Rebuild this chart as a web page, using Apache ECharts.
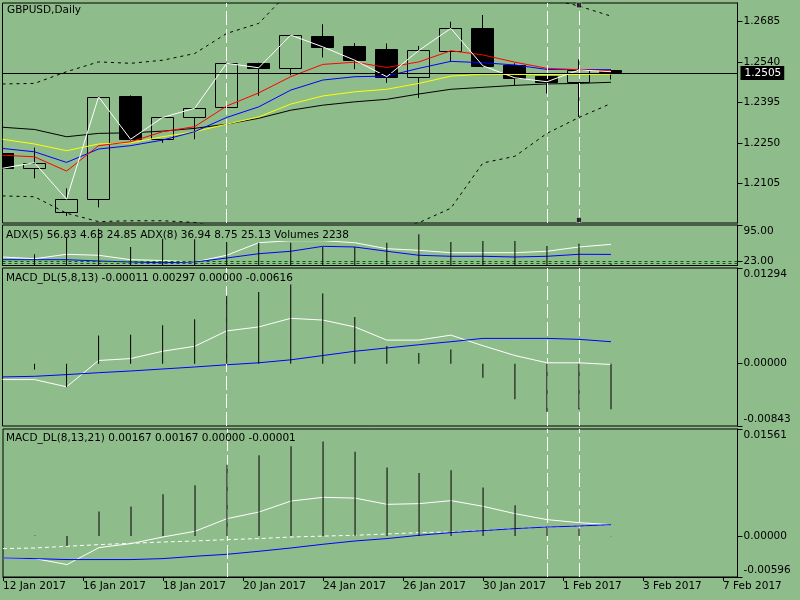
<!DOCTYPE html>
<html><head><meta charset="utf-8">
<script src="https://cdn.jsdelivr.net/npm/echarts@6/dist/echarts.min.js"></script>
<style>html,body{margin:0;padding:0;background:#8fbc8b}#c{width:800px;height:600px}</style>
</head><body><div id="c"></div>
<script>
// ---------- data ----------
const dateLabels = ['12 Jan 2017','16 Jan 2017','18 Jan 2017','20 Jan 2017','24 Jan 2017','26 Jan 2017','30 Jan 2017','1 Feb 2017','3 Feb 2017','7 Feb 2017'];
const dateLabelPos = [0,2.5,5,7.5,10,12.5,15,17.5,20,22.5];
const barIdx = [0,1,2,3,4,5,6,7,8,9,10,11,12,13,14,15,16,17,18,19];

const open  = [1.2212,1.2159,1.2001,1.2048,1.2418,1.2263,1.2343,1.2379,1.2535,1.2519,1.2632,1.2597,1.2588,1.2485,1.2580,1.2661,1.2529,1.2489,1.2469,1.2512];
const close = [1.2159,1.2179,1.2048,1.2415,1.2263,1.2341,1.2374,1.2535,1.2519,1.2636,1.2594,1.2546,1.2487,1.2581,1.2660,1.2526,1.2483,1.2469,1.2511,1.2505];
const high  = [1.2221,1.2233,1.2087,1.2417,1.2420,1.2343,1.2376,1.2537,1.2537,1.2638,1.2675,1.2608,1.2606,1.2597,1.2684,1.2708,1.2535,1.2490,1.2549,1.2514];
const low   = [1.2153,1.2123,1.1988,1.2019,1.2258,1.2250,1.2263,1.2377,1.2419,1.2492,1.2556,1.2514,1.2465,1.2411,1.2540,1.2521,1.2457,1.2427,1.2343,1.2477];

const maRed    = [1.2206,1.2200,1.2149,1.2240,1.2254,1.2290,1.2308,1.2382,1.2429,1.2487,1.2531,1.2539,1.2520,1.2540,1.2580,1.2565,1.2539,1.2517,1.2512,1.2509];
const maBlue   = [1.2230,1.2218,1.2180,1.2228,1.2240,1.2260,1.2290,1.2341,1.2379,1.2439,1.2475,1.2487,1.2489,1.2517,1.2542,1.2537,1.2529,1.2513,1.2513,1.2512];
const maYellow = [1.2263,1.2246,1.2222,1.2246,1.2250,1.2272,1.2290,1.2317,1.2343,1.2389,1.2418,1.2433,1.2442,1.2463,1.2489,1.2496,1.2495,1.2495,1.2495,1.2496];
const maBlack  = [1.2306,1.2298,1.2272,1.2284,1.2286,1.2292,1.2302,1.2317,1.2338,1.2367,1.2385,1.2397,1.2406,1.2425,1.2442,1.2449,1.2456,1.2461,1.2463,1.2467];
const bandUpper = [1.2461,1.2463,1.2505,1.2540,1.2535,1.2546,1.2570,1.2642,1.2678,1.2797,1.2815,1.2830,1.2845,1.2855,1.2860,1.2850,1.2810,1.2768,1.2740,1.2704];
const bandLower = [1.2060,1.2057,1.1998,1.1968,1.1971,1.1971,1.1965,1.1945,1.1931,1.1909,1.1902,1.1916,1.1938,1.1964,1.2016,1.2178,1.2202,1.2284,1.2341,1.2391];
const bidPrice = 1.2505;
const priceTicks = [1.2105,1.2250,1.2395,1.2540,1.2685];
const anchorPoints = [[18,1.2743],[18,1.1974]];
const vLineAt = [7,17,18];

const adxWhite = [31.8,28.4,37.1,35.2,26.5,24.9,21.9,35.2,60.0,64.0,64.0,60.0,48.2,45.0,40.3,40.3,40.3,43.1,51.6,56.8];
const adxBlue  = [26.5,26.5,26.5,23.9,21.9,20.5,21.9,29.8,38.3,43.1,52.9,51.6,43.1,35.2,33.2,33.2,31.8,33.2,37.1,36.9];
const adxLevels = [23,18.5];
const adxTicks = [95,23,18.5];
const volumes = [33000,17100,42500,56300,28300,41000,40100,36000,34900,34900,28300,28300,34900,47700,36000,37500,37500,29800,33400,2238];

const macd1Hist   = [-0.0006,-0.0008,-0.0032,0.0038,0.0039,0.0052,0.0060,0.0092,0.0097,0.0107,0.0095,0.0063,0.0024,0.00146,0.0019,-0.0019,-0.0048,-0.0065,-0.0062,-0.00616];
const macd1Main   = [-0.00215,-0.00215,-0.00313,0.00043,0.00069,0.00168,0.00235,0.00443,0.00497,0.00613,0.00590,0.00497,0.00319,0.00319,0.00386,0.00243,0.00110,0.00012,0.00012,-0.00011];
const macd1Signal = [-0.00179,-0.00171,-0.00148,-0.00122,-0.00099,-0.00072,-0.00045,-0.00015,0.00012,0.00052,0.00110,0.00168,0.00212,0.00256,0.00297,0.00342,0.00342,0.00342,0.00329,0.00297];
const macd1Ticks = [0.01294,0,-0.00843];

const macd2Hist   = [0.0000,0.0001,-0.00144,0.0036,0.0043,0.0061,0.0074,0.0104,0.0118,0.0131,0.0138,0.0123,0.0100,0.0092,0.0096,0.0071,0.0045,0.0013,0.0011,-0.00001];
const macd2Main   = [-0.00318,-0.00328,-0.00415,-0.00167,-0.00109,-0.00013,0.00070,0.00255,0.00351,0.00511,0.00565,0.00554,0.00463,0.00473,0.00517,0.00434,0.00327,0.00240,0.00196,0.00167];
const macd2Signal = [-0.00318,-0.00328,-0.00342,-0.00342,-0.00342,-0.00328,-0.00294,-0.00265,-0.00221,-0.00173,-0.00119,-0.00071,-0.00036,0.00012,0.00051,0.00080,0.00109,0.00132,0.00147,0.00167];
const macd2Dash   = [-0.00182,-0.00173,-0.00148,-0.00124,-0.00105,-0.00086,-0.00071,-0.00051,-0.00036,-0.00013,0.00000,0.00012,0.00031,0.00051,0.00060,0.00084,0.00109,0.00132,0.00147,0.00167];
const macd2Ticks = [0.01561,0,-0.00596];

const titles = [
  'GBPUSD,Daily',
  'ADX(5) 56.83 4.63 24.85 ADX(8) 36.94 8.75 25.13 Volumes 2238',
  'MACD_DL(5,8,13) -0.00011 0.00297 0.00000 -0.00616',
  'MACD_DL(8,13,21) 0.00167 0.00167 0.00000 -0.00001'
];

// ---------- chart ----------
const FONT = 'DejaVu Sans';
const BG = '#8fbc8b';
const FS = 10.5;
const X_MAX = 22.95;
const pairs = arr => barIdx.map((x,i)=>[x, arr[i]]);

const chart = echarts.init(document.getElementById('c'), null, {renderer:'canvas'});

function gridCfg(top, height){
  return {left:2.5, top:top, width:735, height:height, show:true, borderColor:'#000', borderWidth:1, backgroundColor:'transparent', containLabel:false};
}
function xAx(i){
  const shown = i===3;
  return {
    type:'value', gridIndex:i, min:0, max:X_MAX, show:shown,
    splitLine:{show:false},
    axisLine:{show:shown, onZero:false, lineStyle:{color:'#000'}},
    axisTick:{show:shown, length:4, customValues:dateLabelPos, lineStyle:{color:'#000'}},
    axisLabel:{show:shown, customValues:dateLabelPos, margin:4, align:'left', color:'#000', fontSize:FS, fontFamily:FONT,
      formatter: v => dateLabels[Math.round(v/2.5)] || ''}
  };
}
function yAx(grid, min, max, ticks, dec, edgeShift){
  return {
    type:'value', gridIndex:grid, position:'right', min:min, max:max,
    splitLine:{show:false},
    axisLine:{show:true, onZero:false, lineStyle:{color:'#000'}},
    axisTick:{show:true, length:5, customValues:ticks, lineStyle:{color:'#000'}},
    axisLabel:{show:true, customValues:ticks, margin:6, align:'left', color:'#000', fontSize:FS, fontFamily:FONT,
      formatter: v => {
        const s = v.toFixed(dec);
        if (edgeShift && Math.abs(v-max) < 1e-9) return '{t|' + s + '}';
        if (edgeShift && Math.abs(v-min) < 1e-9) return '{b|' + s + '}';
        return s;
      },
      rich:{ t:{padding:[13,0,0,0]}, b:{padding:[0,0,14,0]} }
    }
  };
}
function line(xi, yi, arr, color, extra){
  return Object.assign({type:'line', xAxisIndex:xi, yAxisIndex:yi, data:pairs(arr), symbol:'none', silent:true,
    lineStyle:{width:1, color:color}, itemStyle:{color:color}}, extra||{});
}
function hist(xi, yi, arr, extra){
  return Object.assign({type:'bar', xAxisIndex:xi, yAxisIndex:yi, data:pairs(arr), barWidth:1, silent:true, z:6,
    itemStyle:{color:'#000'}}, extra||{});
}
const vLines = {silent:true, symbol:['none','none'], label:{show:false},
  lineStyle:{color:'#fff', type:[14,4], width:1}, data: vLineAt.map(v=>({xAxis:v}))};

function renderCandle(params, api){
  const x = api.value(0), o = api.value(1), c = api.value(2), l = api.value(3), h = api.value(4);
  const po = api.coord([x,o]), pc = api.coord([x,c]), pl = api.coord([x,l]), ph = api.coord([x,h]);
  const w = Math.round(api.size([1,0])[0]*0.68);
  const cx = Math.floor(po[0]) + 0.5;
  const top = Math.round(Math.min(po[1],pc[1])) + 0.5;
  const bot = Math.round(Math.max(po[1],pc[1])) + 0.5;
  const bull = c >= o;
  return {type:'group', children:[
    {type:'line', shape:{x1:cx, y1:ph[1], x2:cx, y2:pl[1]}, style:{stroke:'#000', lineWidth:1}},
    {type:'rect', shape:{x:cx - w/2, y:top, width:w, height:Math.max(bot-top,1)},
     style:{fill: bull ? BG : '#000', stroke:'#000', lineWidth:1}}
  ]};
}

const titleStyle = {fontSize:FS, fontWeight:'normal', color:'#000', fontFamily:FONT};
const option = {
  backgroundColor: BG,
  animation: false,
  title: [
    {text:titles[0], left:7, top:5, padding:0, textStyle:titleStyle},
    {text:titles[1], left:6, top:230, padding:0, textStyle:titleStyle, backgroundColor:BG},
    {text:titles[2], left:6, top:273, padding:0, textStyle:titleStyle},
    {text:titles[3], left:6, top:433, padding:0, textStyle:titleStyle}
  ],
  grid: [gridCfg(3,220), gridCfg(225,40.5), gridCfg(268,158), gridCfg(429,148)],
  xAxis: [xAx(0), xAx(1), xAx(2), xAx(3)],
  yAxis: [
    yAx(0, 1.1963, 1.2751, priceTicks, 4, false),
    yAx(1, 15, 95, adxTicks, 2, true),
    {type:'value', gridIndex:1, min:0, max:62000, show:false, splitLine:{show:false}},
    yAx(2, -0.00843, 0.01294, macd1Ticks, 5, true),
    yAx(3, -0.00596, 0.01561, macd2Ticks, 5, true)
  ],
  series: [
    {type:'custom', xAxisIndex:0, yAxisIndex:0, clip:true, silent:true,
     data: barIdx.map((x,i)=>[x, open[i], close[i], low[i], high[i]]),
     encode:{x:0, y:[1,2,3,4]}, renderItem: renderCandle},
    line(0,0,maBlack,'#000000'),
    line(0,0,maYellow,'#ffff00'),
    line(0,0,maBlue,'#0000ff'),
    line(0,0,maRed,'#ff0000', {markLine: vLines}),
    line(0,0,close,'#ffffff', {markLine:{silent:true, symbol:['none','none'],
      lineStyle:{color:'#000', type:'solid', width:1},
      label:{show:true, position:'end', distance:3, formatter: bidPrice.toFixed(4), color:'#fff', backgroundColor:'#000',
        padding:[2,3,1,4], fontSize:FS, fontFamily:FONT},
      data:[{yAxis:bidPrice}]}}),
    line(0,0,bandUpper,'#000', {lineStyle:{width:1, color:'#000', type:[3,4]}}),
    line(0,0,bandLower,'#000', {lineStyle:{width:1, color:'#000', type:[3,4]}}),
    {type:'scatter', xAxisIndex:0, yAxisIndex:0, data:anchorPoints, symbol:'rect', symbolSize:5, silent:true, z:7,
     itemStyle:{color:'#000', borderColor:'#fff', borderWidth:0.5}},

    line(1,1,adxWhite,'#ffffff'),
    line(1,1,adxBlue,'#0000ff', {markLine:{silent:true, symbol:['none','none'], label:{show:false},
      lineStyle:{color:'#006400', type:[3,3], width:1}, data: adxLevels.map(v=>({yAxis:v}))}}),
    hist(1,2,volumes, {z:10}),

    hist(2,3,macd1Hist),
    line(2,3,macd1Main,'#ffffff', {markLine: vLines}),
    line(2,3,macd1Signal,'#0000ff'),

    hist(3,4,macd2Hist),
    line(3,4,macd2Dash,'#ffffff', {lineStyle:{width:1, color:'#fff', type:[4,3]}}),
    line(3,4,macd2Main,'#ffffff', {markLine: vLines}),
    line(3,4,macd2Signal,'#0000ff')
  ]
};
chart.setOption(option);
</script>
</body></html>
